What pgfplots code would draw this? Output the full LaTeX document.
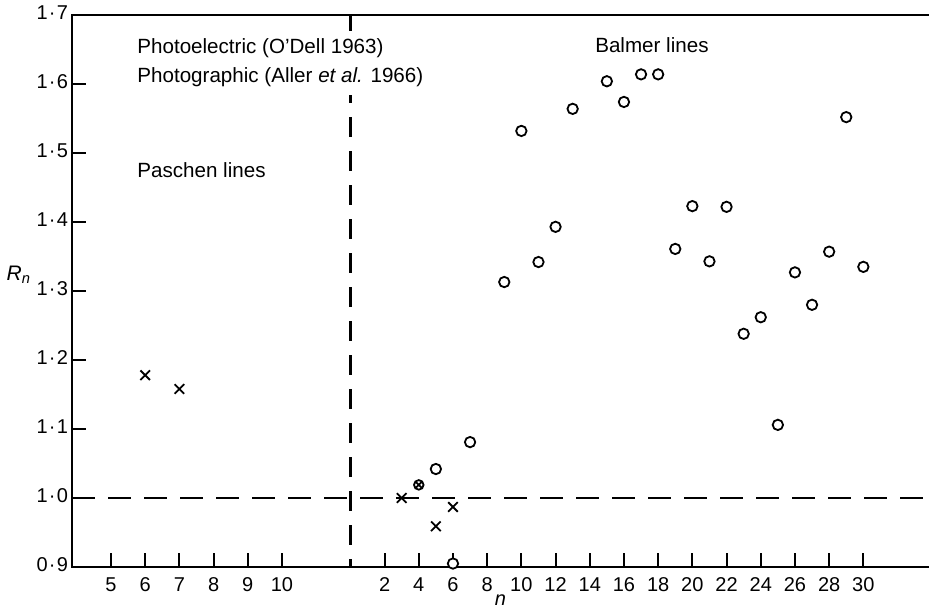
\documentclass[border=0pt]{standalone}
\usepackage{fontspec}
\setmainfont{Liberation Sans}
\usepackage{pgfplots}
\pgfplotsset{compat=1.18}
\usetikzlibrary{plotmarks}

% x coordinate u: Paschen m -> u = m ; Balmer n -> u = 12 + n/2 ; divider at u = 12
\pgfplotstableread{
u     y
6     1.178
7     1.158
}\paschencross
\pgfplotstableread{
u     y
13.5  1.000
14.5  0.959
15    0.987
}\balmercross
\pgfplotstableread{
u     y
14    1.019
}\balmerboth
\pgfplotstableread{
u     y
14.5  1.042
15    0.905
15.5  1.081
16.5  1.313
17    1.532
17.5  1.342
18    1.393
18.5  1.564
19.5  1.604
20    1.574
20.5  1.614
21    1.614
21.5  1.361
22    1.423
22.5  1.343
23    1.422
23.5  1.238
24    1.262
24.5  1.106
25    1.327
25.5  1.280
26    1.357
26.5  1.552
27    1.335
}\balmercirc

\newcommand{\cd}{\kern0.6pt·\kern0.6pt}
\begin{document}
\begin{tikzpicture}
\useasboundingbox (-36pt,-21.5pt) rectangle (428.5pt,283.5pt);
\begin{axis}[
  at={(0,0)}, anchor=south west,
  width=428.5pt, height=276pt, scale only axis,
  xmin=3.86, xmax=28.92, ymin=0.9, ymax=1.7,
  clip=false,
  axis line style={draw=none},
  xtick pos=bottom, ytick pos=left,
  xtick={5,6,7,8,9,10,13,14,15,16,17,18,19,20,21,22,23,24,25,26,27},
  xticklabels={5,6,7,8,9,10,2,4,6,8,10,12,14,16,18,20,22,24,26,28,30},
  ytick={0.9,1,1.1,1.2,1.3,1.4,1.5,1.6,1.7},
  yticklabels={0\cd9,1\cd0,1\cd1,1\cd2,1\cd3,1\cd4,1\cd5,1\cd6,1\cd7},
  typeset ticklabels with strut,
  tick align=inside, major tick length=7pt,
  tick style={line width=1pt, black},
  ticklabel style={font=\fontsize{10}{12}\selectfont},
  x tick label style={yshift=-0.5pt},
  y tick label style={xshift=1.5pt},
  xlabel={\itshape n},
  xlabel style={at={(axis description cs:0.5,0)}, anchor=center, yshift=-16.5pt, font=\fontsize{10}{12}\selectfont},
  ylabel={\itshape R\textsubscript{n}},
  ylabel style={rotate=-90, at={(axis description cs:-0.062,0.529)}, anchor=center, font=\fontsize{10.5}{12}\selectfont},
]
\draw[line width=1.3pt] (rel axis cs:1,1) -- (rel axis cs:0,1) -- (rel axis cs:0,0) -- (rel axis cs:1,0);
\draw[line width=1.2pt, dash pattern=on 11.5pt off 6.5pt] (axis cs:3.86,1.0) -- (axis cs:28.92,1.0);
\draw[line width=1.2pt, dash pattern=on 10pt off 7pt] (axis cs:12,1.7) -- (axis cs:12,0.9);

\node[anchor=west, inner xsep=0pt, inner ysep=4pt, fill=white, font=\fontsize{10.3}{12}\selectfont] at (axis cs:5.76,1.652) {Photoelectric (O'Dell 1963)};
\node[anchor=west, inner xsep=0pt, inner ysep=4pt, fill=white, font=\fontsize{10.3}{12}\selectfont] at (axis cs:5.76,1.610) {Photographic (Aller \textit{et al.} 1966)};
\node[anchor=west, inner sep=0pt, font=\fontsize{10.3}{12}\selectfont] at (axis cs:5.76,1.475) {Paschen lines};
\node[anchor=west, inner sep=0pt, font=\fontsize{10.3}{12}\selectfont] at (axis cs:19.15,1.657) {Balmer lines};

\addplot[only marks, mark=x, mark size=3.4pt, mark options={line width=0.9pt, black}] table[x=u,y=y] {\paschencross};
\addplot[only marks, mark=x, mark size=3.4pt, mark options={line width=0.9pt, black}] table[x=u,y=y] {\balmercross};
\addplot[only marks, mark=otimes*, mark size=2.4pt, mark options={line width=0.9pt, draw=black, fill=white}] table[x=u,y=y] {\balmerboth};
\addplot[only marks, mark=*, mark size=2.6pt, mark options={line width=0.9pt, draw=black, fill=white}] table[x=u,y=y] {\balmercirc};
\end{axis}
\end{tikzpicture}
\end{document}
